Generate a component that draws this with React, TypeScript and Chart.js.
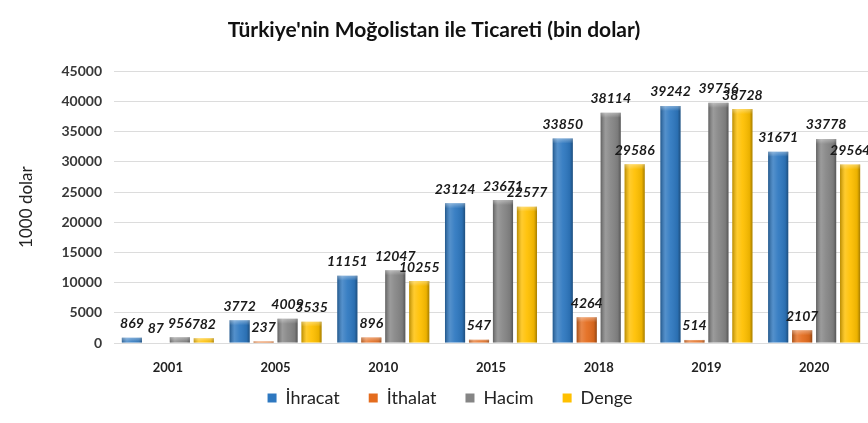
import React, { useEffect, useRef } from "react";
import { Chart, registerables } from "chart.js";
Chart.register(...registerables);

const years = ["2001", "2005", "2010", "2015", "2018", "2019", "2020"];
const ihracat = [869, 3772, 11151, 23124, 33850, 39242, 31671];
const ithalat = [87, 237, 896, 547, 4264, 514, 2107];
const hacim = [956, 4009, 12047, 23671, 38114, 39756, 33778];
const denge = [782, 3535, 10255, 22577, 29586, 38728, 29564];
const seriesNames = ["İhracat", "İthalat", "Hacim", "Denge"];
const seriesColors = ["#2E78C0", "#E46C1E", "#858585", "#FFC000"];
const chartTitle = "Türkiye'nin Moğolistan ile Ticareti (bin dolar)";
const yTitle = "1000 dolar";
const yMax = 45000;
const yStep = 5000;

const FONT = "Lato, 'Open Sans', sans-serif";

const shadeAndLabel = {
  id: "shadeAndLabel",
  afterLayout(chart: any) {
    // let the x labels overflow their (shrunk) box, and nudge the legend right
    const xs = chart.scales.x;
    if (xs) xs.bottom = chart.height;
    if (chart.legend) {
      chart.legend.left += 16;
      chart.legend.right += 16;
    }
  },
  afterDatasetsDraw(chart: any) {
    const ctx = chart.ctx;
    ctx.save();
    chart.data.datasets.forEach((ds: any, di: number) => {
      const meta = chart.getDatasetMeta(di);
      meta.data.forEach((el: any, i: number) => {
        const w = el.width;
        const left = el.x - w / 2;
        const top = Math.min(el.y, el.base);
        const h = Math.abs(el.base - el.y);
        if (h > 0) {
          const g = ctx.createLinearGradient(left, 0, left + w, 0);
          g.addColorStop(0, "rgba(0,0,0,0.28)");
          g.addColorStop(0.25, "rgba(255,255,255,0.18)");
          g.addColorStop(0.5, "rgba(255,255,255,0.06)");
          g.addColorStop(0.85, "rgba(0,0,0,0.08)");
          g.addColorStop(1, "rgba(0,0,0,0.35)");
          ctx.fillStyle = g;
          ctx.fillRect(left, top, w, h);
          const th = Math.min(5, h);
          const tg = ctx.createLinearGradient(0, top, 0, top + th);
          tg.addColorStop(0, "rgba(255,255,255,0.35)");
          tg.addColorStop(1, "rgba(255,255,255,0)");
          ctx.fillStyle = tg;
          ctx.fillRect(left, top, w, th);
        }
        ctx.fillStyle = "#1a1a1a";
        ctx.font = "italic bold 14px " + FONT;
        ctx.textAlign = "center";
        ctx.textBaseline = "bottom";
        ctx.fillText(String(ds.data[i]), el.x, el.y - 7);
      });
    });
    ctx.restore();
  },
};

export default function App() {
  const ref = useRef<HTMLCanvasElement>(null);
  useEffect(() => {
    document.body.style.margin = "0";
    document.body.style.overflow = "hidden";
    document.body.style.background = "#ffffff";
    const values = [ihracat, ithalat, hacim, denge];
    const chart = new Chart(ref.current as HTMLCanvasElement, {
      type: "bar",
      data: {
        labels: years,
        datasets: values.map((v, k) => ({
          label: seriesNames[k],
          data: v,
          backgroundColor: seriesColors[k],
          borderWidth: 0,
          categoryPercentage: 0.89,
          barPercentage: 0.84,
        })),
      },
      options: {
        animation: false,
        responsive: false,
        maintainAspectRatio: false,
        layout: { padding: { left: 0, right: 0, top: 0, bottom: 6 } },
        plugins: {
          title: {
            display: true,
            text: chartTitle,
            color: "#111",
            font: { family: FONT, size: 21, weight: "bold" },
            padding: { top: 18, bottom: 28 },
          },
          legend: {
            position: "bottom",
            labels: {
              color: "#222",
              font: { family: FONT, size: 18 },
              boxWidth: 9,
              boxHeight: 9,
              padding: 29,
            },
          },
          tooltip: { enabled: false },
        },
        scales: {
          x: {
            grid: { display: false },
            border: { display: false },
            ticks: {
              color: "#222",
              font: { family: FONT, size: 13, weight: "bold" },
              padding: 9,
            },
            afterFit(scale: any) {
              scale.height = 17;
            },
          },
          y: {
            min: 0,
            max: yMax,
            grid: { color: "#DCDCDC", drawTicks: false },
            border: { display: false },
            ticks: {
              stepSize: yStep,
              color: "#383838",
              font: { family: FONT, size: 14, weight: "bold" },
              padding: 12,
              callback: (v: any) => String(v),
            },
            title: {
              display: true,
              text: yTitle,
              color: "#222",
              font: { family: FONT, size: 17 },
              padding: { top: 16, bottom: 0 },
            },
            afterFit(scale: any) {
              scale.width = 114;
            },
          },
        },
      },
      plugins: [shadeAndLabel],
    });
    return () => chart.destroy();
  }, []);
  return <canvas ref={ref} width={868} height={423} style={{ display: "block" }} />;
}
